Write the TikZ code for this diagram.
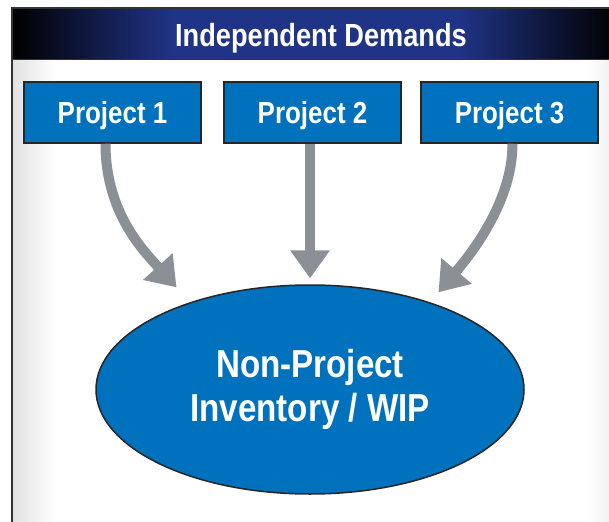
\documentclass[tikz,border=0pt]{standalone}
\usepackage{fontspec}
\setmainfont{Liberation Sans}[FakeStretch=0.85]
\usetikzlibrary{shapes.geometric,arrows.meta}

\definecolor{projblue}{RGB}{0,113,188}
\definecolor{flowgray}{RGB}{139,144,150}
\definecolor{bandnavy}{RGB}{32,52,135}

\pgfdeclarehorizontalshading{headband}{100bp}{color(0bp)=(black); color(25bp)=(black);
  color(38bp)=(bandnavy); color(61bp)=(bandnavy); color(74bp)=(black); color(100bp)=(black)}

\begin{document}
\begin{tikzpicture}[x=1pt, y=-1pt,
    projbox/.style={draw=black!85, line width=1.5pt, fill=projblue, text=white,
      minimum width=177pt, minimum height=61pt, inner sep=0pt,
      text height=22pt, text depth=0pt,
      font=\fontsize{30.5}{36}\selectfont\bfseries},
    flow/.style={draw=flowgray, line width=10pt,
      -{Triangle[width=38pt, length=28pt]}}]

        \useasboundingbox (0,0) rectangle (609,521);
        \clip (0,0) rectangle (609,521);

        % Frame and title band
        \fill[white] (0,0) rectangle (609,521);
        \shade[left color=black!12, right color=white] (12,60) rectangle (55,540);
        \shade[left color=white, right color=black!5] (585,60) rectangle (609,540);
        \shade[shading=headband] (12,8) rectangle (630,60);
        \draw[black!80, line width=1.5pt] (12,540) -- (12,8) -- (640,8);
        \draw[black!80, line width=1pt] (12,60) -- (640,60);
        \node[text=white, text height=23pt, text depth=0pt,
          font=\fontsize{32}{38}\selectfont\bfseries] (title) at (321,35) {Independent Demands};

        % Projects
        \node[projbox] (proj1) at (112.5,112.5) {Project 1};
        \node[projbox] (proj2) at (312.5,112.5) {Project 2};
        \node[projbox] (proj3) at (509.5,112.5) {Project 3};

        % Inventory pool
        \node[ellipse, draw=black!85, line width=1.5pt, fill=projblue, text=white,
          minimum width=428pt, minimum height=209pt, inner sep=0pt, align=center,
          font=\fontsize{39}{43.5}\selectfont\bfseries] (inv) at (310,389.5) {Non-Project\\Inventory / WIP};

        % Demand arrows
        \draw[flow, shorten >=20pt] ([xshift=-7pt]proj1.south) .. controls +(0,70) and +(-45,-50) .. (inv.144);
        \draw[flow, shorten >=6pt] (proj2.south -| inv.north) -- (inv.north);
        \draw[flow, shorten >=13pt] ([xshift=3pt]proj3.south) .. controls +(0,60) and +(38,-45) .. (inv.36.6);

    \end{tikzpicture}
\end{document}
